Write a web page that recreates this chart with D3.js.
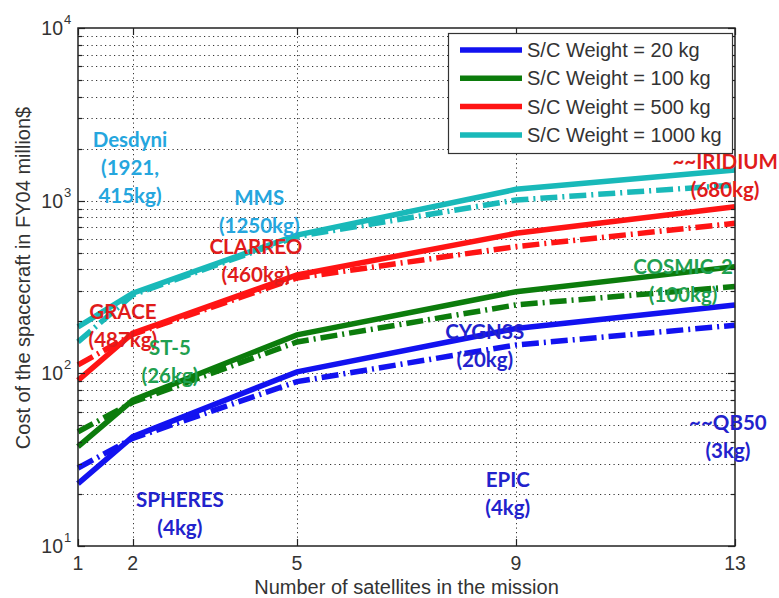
<!DOCTYPE html>
<html>
<head>
<meta charset="utf-8">
<script src="https://cdn.jsdelivr.net/npm/d3@7"></script>
<style>
  body { margin: 0; background: #fff; }
  svg { display: block; }
</style>
</head>
<body>
<svg id="chart" width="779" height="598"></svg>
<script>
// number of satellites where the model was evaluated
var satellites = [1, 2, 5, 9, 13];

// cost in FY04 M$, solid = model A, dashdot = model B
var cost20 = [23, 43, 102, 182, 249];
var cost20b = [28.3, 42, 89.5, 146, 190];
var cost100 = [37.6, 70, 167, 297, 415];
var cost100b = [45.9, 68, 152, 249, 318];
var cost500 = [91, 171, 371, 647, 923];
var cost500b = [112, 168, 357, 542, 740];
var cost1000 = [186, 291, 632, 1163, 1506];
var cost1000b = [152, 285, 620, 1009, 1233];

var legendNames = ['S/C Weight = 20 kg', 'S/C Weight = 100 kg', 'S/C Weight = 500 kg', 'S/C Weight = 1000 kg'];
var xTicks = [1, 2, 5, 9, 13];
var yDecades = [10, 100, 1000, 10000];

// mission annotations, anchored in data units (satellites, cost)
var missionText = [['Desdyni', '(1921,', '415kg)'], ['MMS', '(1250kg)'], ['CLARREO', '(460kg)'], ['GRACE', '(487kg)'],
  ['ST-5', '(26kg)'], ['SPHERES', '(4kg)'], ['CYGNSS', '(20kg)'], ['EPIC', '(4kg)'], ['~~QB50', '(3kg)'],
  ['COSMIC-2', '(100kg)'], ['~~IRIDIUM', '(680kg)']];
var missionX = [1.95, 4.31, 4.25, 1.82, 2.68, 2.86, 8.43, 8.85, 12.87, 12.05, 12.82];
var missionY = [2245, 1036, 540, 226, 140, 18.5, 173.5, 24.1, 51.6, 413, 1675];
var missionGroup = [3, 3, 2, 2, 1, 0, 0, 0, 0, 1, 2];

var lineColors = ['#1212f0', '#0c7c0c', '#ff1414', '#19b9b9'];
var textColors = ['#2222cc', '#1fa050', '#e01b1b', '#25a6de'];

var svg = d3.select('#chart');
var margin = {left: 78, top: 28, right: 44, bottom: 52};
var W = 779, H = 598;

var x = d3.scaleLinear().domain([1, 13]).range([margin.left, W - margin.right]);
var y = d3.scaleLog().domain([10, 10000]).range([H - margin.bottom, margin.top]);

var x0 = x.range()[0], x1 = x.range()[1];
var yb = y.range()[0], yt = y.range()[1];

// minor log values
var minorVals = [];
yDecades.slice(0, 3).forEach(function(d) {
  for (var k = 2; k <= 9; k++) minorVals.push(d * k);
});

// grid
var grid = svg.append('g').attr('stroke', '#333').attr('stroke-width', 1).attr('stroke-dasharray', '1.2,3.3');
grid.selectAll('line.h')
  .data(minorVals.concat([100, 1000]))
  .enter().append('line')
  .attr('x1', x0).attr('x2', x1)
  .attr('y1', function(d) { return Math.round(y(d)) + 0.5; })
  .attr('y2', function(d) { return Math.round(y(d)) + 0.5; });
grid.selectAll('line.v')
  .data([2, 5, 9])
  .enter().append('line')
  .attr('y1', yt).attr('y2', yb)
  .attr('x1', function(d) { return Math.round(x(d)) + 0.5; })
  .attr('x2', function(d) { return Math.round(x(d)) + 0.5; });

// curves
var line = d3.line()
  .x(function(d, i) { return x(satellites[i]); })
  .y(function(d) { return y(d); });

var solidSeries = [cost20, cost100, cost500, cost1000];
var dashSeries = [cost20b, cost100b, cost500b, cost1000b];

var curves = svg.append('g').attr('fill', 'none').attr('stroke-width', 5.5);
dashSeries.forEach(function(s, i) {
  curves.append('path')
    .attr('d', line(s))
    .attr('stroke', lineColors[i])
    .attr('stroke-dasharray', '17,5,2,5');
});
solidSeries.forEach(function(s, i) {
  curves.append('path')
    .attr('d', line(s))
    .attr('stroke', lineColors[i]);
});

// frame and ticks
var axisColor = '#222';
svg.append('rect')
  .attr('x', x0).attr('y', yt)
  .attr('width', x1 - x0).attr('height', yb - yt)
  .attr('fill', 'none').attr('stroke', axisColor).attr('stroke-width', 1.5);

var ticks = svg.append('g').attr('stroke', axisColor).attr('stroke-width', 1.2);
minorVals.forEach(function(v) {
  var yy = Math.round(y(v)) + 0.5;
  ticks.append('line').attr('x1', x0).attr('x2', x0 + 4).attr('y1', yy).attr('y2', yy);
  ticks.append('line').attr('x1', x1).attr('x2', x1 - 4).attr('y1', yy).attr('y2', yy);
});
yDecades.forEach(function(v) {
  var yy = Math.round(y(v)) + 0.5;
  ticks.append('line').attr('x1', x0).attr('x2', x0 + 7).attr('y1', yy).attr('y2', yy);
  ticks.append('line').attr('x1', x1).attr('x2', x1 - 7).attr('y1', yy).attr('y2', yy);
});
xTicks.forEach(function(v) {
  var xx = Math.round(x(v)) + 0.5;
  ticks.append('line').attr('x1', xx).attr('x2', xx).attr('y1', yb).attr('y2', yb - 7);
  ticks.append('line').attr('x1', xx).attr('x2', xx).attr('y1', yt).attr('y2', yt + 7);
});

// tick labels
var labelFont = 'Liberation Sans, Arial, sans-serif';
var textColor = '#333';
svg.append('g').selectAll('text')
  .data(xTicks)
  .enter().append('text')
  .attr('x', function(d) { return x(d); })
  .attr('y', 570)
  .attr('text-anchor', 'middle')
  .attr('font-family', labelFont).attr('font-size', 19.5).attr('fill', textColor)
  .text(function(d) { return d; });

var yl = svg.append('g').attr('font-family', labelFont).attr('fill', textColor);
yDecades.forEach(function(v) {
  var yy = y(v);
  yl.append('text').attr('x', 63).attr('y', yy + 7).attr('text-anchor', 'end')
    .attr('font-size', 19.5).text('10');
  yl.append('text').attr('x', 64).attr('y', yy - 4).attr('text-anchor', 'start')
    .attr('font-size', 13).text(Math.round(Math.log10(v)));
});

// axis titles
svg.append('text')
  .attr('x', (x0 + x1) / 2).attr('y', 594)
  .attr('text-anchor', 'middle')
  .attr('font-family', labelFont).attr('font-size', 20).attr('fill', textColor)
  .text('Number of satellites in the mission');
svg.append('text')
  .attr('transform', 'translate(30,278) rotate(-90)')
  .attr('text-anchor', 'middle')
  .attr('font-family', labelFont).attr('font-size', 20).attr('fill', textColor)
  .text('Cost of the spacecraft in FY04 million$');

// annotations
var notes = svg.append('g')
  .attr('font-family', 'Lato, Carlito, sans-serif')
  .attr('font-weight', 'bold')
  .attr('font-size', 20.5)
  .attr('text-anchor', 'middle');
missionText.forEach(function(lines, i) {
  var t = notes.append('text')
    .attr('x', x(missionX[i]))
    .attr('y', y(missionY[i]) + 7)
    .attr('fill', textColors[missionGroup[i]]);
  lines.forEach(function(s, j) {
    t.append('tspan').attr('x', x(missionX[i])).attr('dy', j === 0 ? 0 : 28).text(s);
  });
});

// legend
var lg = svg.append('g');
lg.append('rect')
  .attr('x', 448.5).attr('y', 33.5).attr('width', 284).attr('height', 120)
  .attr('fill', '#fff').attr('stroke', '#333').attr('stroke-width', 1.2);
legendNames.forEach(function(name, i) {
  var ly = 50 + i * 28.3;
  lg.append('line').attr('x1', 460).attr('x2', 522).attr('y1', ly).attr('y2', ly)
    .attr('stroke', lineColors[i]).attr('stroke-width', 5.5);
  lg.append('text').attr('x', 527).attr('y', ly + 7)
    .attr('font-family', labelFont).attr('font-size', 20).attr('fill', textColor)
    .text(name);
});
</script>
</body>
</html>
